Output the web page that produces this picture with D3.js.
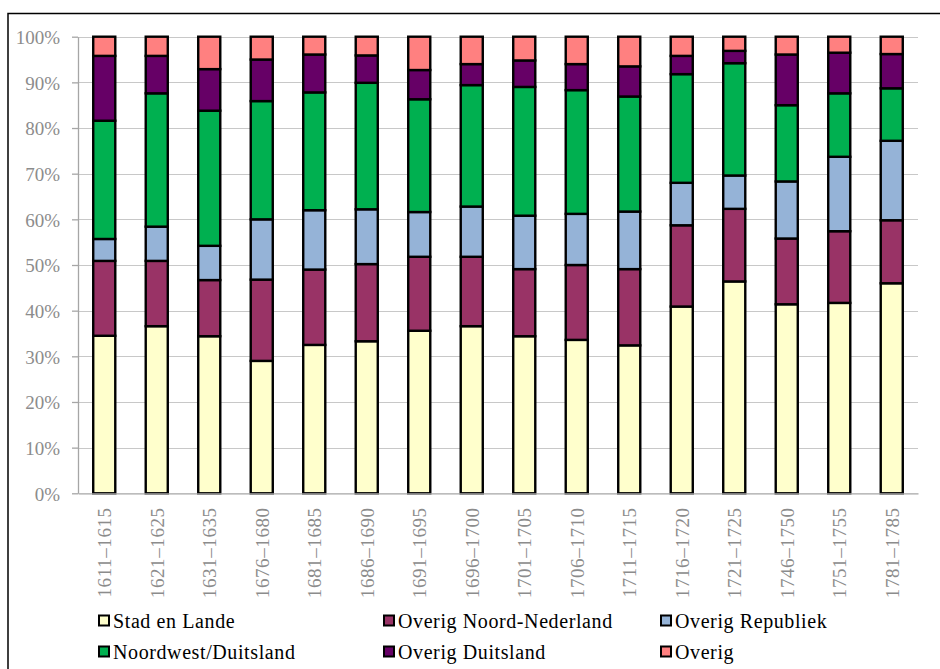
<!DOCTYPE html>
<html>
<head>
<meta charset="utf-8">
<script src="https://cdn.jsdelivr.net/npm/d3@7/dist/d3.min.js"></script>
<style>
  html, body { margin: 0; padding: 0; background: #fff; }
  svg { display: block; }
  .serif { font-family: "Liberation Serif", "DejaVu Serif", "Times New Roman", Times, serif; }
</style>
</head>
<body>
<svg id="chart" width="940" height="669"></svg>
<script>
// ---- DATA ----
const categories = ["1611–1615","1621–1625","1631–1635","1676–1680","1681–1685","1686–1690","1691–1695","1696–1700","1701–1705","1706–1710","1711–1715","1716–1720","1721–1725","1746–1750","1751–1755","1781–1785"];
const seriesNames = ["Stad en Lande","Overig Noord-Nederland","Overig Republiek","Noordwest/Duitsland","Overig Duitsland","Overig"];
const stadEnLande       = [34.5,36.6,34.4,29.0,32.5,33.3,35.6,36.6,34.4,33.6,32.4,40.9,46.4,41.4,41.7,46.0];
const overigNoordNL     = [16.4,14.3,12.3,17.8,16.5,16.9,16.2,15.2,14.7,16.4,16.7,17.8,15.9,14.4,15.7,13.8];
const overigRepubliek   = [ 4.8, 7.5, 7.5,13.2,13.0,12.0, 9.8,11.0,11.7,11.2,12.6, 9.3, 7.3,12.5,16.3,17.4];
const noordwestDuitsl   = [25.9,29.2,29.6,25.9,25.8,27.7,24.7,26.6,28.2,27.1,25.2,23.8,24.6,16.7,13.9,11.5];
const overigDuitsland   = [14.2, 8.2, 9.1, 9.1, 8.3, 6.0, 6.4, 4.6, 5.8, 5.7, 6.6, 4.0, 2.7,11.1, 8.9, 7.5];
const overig            = [ 4.2, 4.2, 7.1, 5.0, 3.9, 4.1, 7.3, 6.0, 5.2, 6.0, 6.5, 4.2, 3.1, 3.9, 3.5, 3.8];
const yTickValues = [0,10,20,30,40,50,60,70,80,90,100];
const seriesColors = ["#FFFFCC","#993366","#95B3D7","#00B050","#660066","#FF8080"];

// ---- BUILD ----
const allSeries = [stadEnLande, overigNoordNL, overigRepubliek, noordwestDuitsl, overigDuitsland, overig];
const table = categories.map((c, i) => {
  const row = { cat: c };
  seriesNames.forEach((s, j) => row[s] = allSeries[j][i]);
  return row;
});
const stacked = d3.stack().keys(seriesNames).offset(d3.stackOffsetExpand)(table);

const svg = d3.select("#chart");
const plot = { left: 78, right: 918, top: 36.7, bottom: 493.3 };
const x = d3.scaleBand().domain(categories).range([plot.left, plot.right]).paddingInner(0.58).paddingOuter(0.29);
const y = d3.scaleLinear().domain([0, 1]).range([plot.bottom, plot.top]);
const color = d3.scaleOrdinal().domain(seriesNames).range(seriesColors);

// outer frame
svg.append("rect").attr("x", 8).attr("y", 13.5).attr("width", 1000).attr("height", 700)
  .attr("fill", "none").attr("stroke", "#000").attr("stroke-width", 1.5);

// gridlines
svg.append("g").selectAll("line").data(yTickValues.filter(d => d > 0)).join("line")
  .attr("x1", plot.left).attr("x2", plot.right)
  .attr("y1", d => Math.round(y(d / 100)) + 0.5).attr("y2", d => Math.round(y(d / 100)) + 0.5)
  .attr("stroke", "#c8c8c8").attr("stroke-width", 1.2);

// y axis
const yAxis = d3.axisLeft(y).tickValues(yTickValues.map(v => v / 100))
  .tickFormat(d => Math.round(d * 100) + "%").tickSizeInner(6).tickSizeOuter(0).tickPadding(12);
const yg = svg.append("g").attr("transform", `translate(${plot.left},0)`).call(yAxis)
  .attr("font-family", null).attr("font-size", null);
yg.select(".domain").attr("stroke", "#a6a6a6").attr("stroke-width", 1.3);
yg.selectAll(".tick line").attr("stroke", "#a6a6a6").attr("stroke-width", 1.3);
yg.selectAll(".tick text").attr("class", "serif").style("font-size", "19px")
  .attr("fill", "#8c8c8c").attr("dy", "0.36em");

// bars
svg.append("g").selectAll("g").data(stacked).join("g")
  .attr("fill", d => color(d.key))
  .selectAll("rect").data(d => d).join("rect")
  .attr("x", d => x(d.data.cat))
  .attr("width", x.bandwidth())
  .attr("y", d => y(d[1]))
  .attr("height", d => y(d[0]) - y(d[1]))
  .attr("stroke", "#000").attr("stroke-width", 2.4);

// x axis
const xAxis = d3.axisBottom(x).tickSize(0).tickPadding(0);
const xg = svg.append("g").attr("transform", `translate(0,${plot.bottom})`).call(xAxis)
  .attr("font-family", null).attr("font-size", null);
xg.select(".domain").attr("stroke", "#a6a6a6").attr("stroke-width", 1.3);
xg.selectAll(".tick text")
  .attr("class", "serif").style("font-size", "19px").attr("fill", "#8c8c8c")
  .attr("letter-spacing", "0.6px")
  .attr("text-anchor", "end")
  .attr("transform", "translate(0,14) rotate(-90)")
  .attr("x", 0).attr("y", 0).attr("dy", "0.36em");

// legend
const legendPos = [[98, 621], [383, 621], [660, 621], [98, 652], [383, 652], [660, 652]];
const lg = svg.append("g").selectAll("g").data(seriesNames).join("g")
  .attr("transform", (d, i) => `translate(${legendPos[i][0]},${legendPos[i][1]})`);
lg.append("rect").attr("x", 1).attr("y", -5.5).attr("width", 10).attr("height", 10)
  .attr("fill", d => color(d)).attr("stroke", "#000").attr("stroke-width", 2);
lg.append("text").attr("class", "serif").attr("x", 15).attr("y", 0).attr("dy", "0.33em")
  .style("font-size", "20px").attr("letter-spacing", "0.6px")
  .attr("fill", "#000").text(d => d);
</script>
</body>
</html>
